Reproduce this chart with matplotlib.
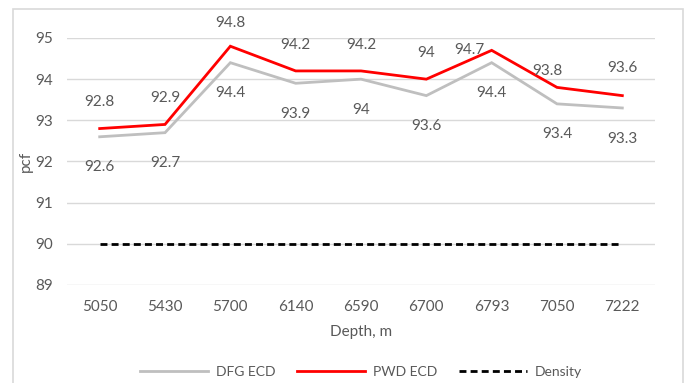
import matplotlib
matplotlib.use('Agg')
import matplotlib.pyplot as plt
from matplotlib.patches import Rectangle

# depth stations and measured values (pcf)
depths = ['5050', '5430', '5700', '6140', '6590', '6700', '6793', '7050', '7222']
dfg_ecd = [92.6, 92.7, 94.4, 93.9, 94.0, 93.6, 94.4, 93.4, 93.3]
pwd_ecd = [92.8, 92.9, 94.8, 94.2, 94.2, 94.0, 94.7, 93.8, 93.6]
density = [90, 90, 90, 90, 90, 90, 90, 90, 90]
yticks = [89, 90, 91, 92, 93, 94, 95]

# label offsets in points (PWD above, DFG below, a couple nudged by hand)
pwd_offsets = [(0, 19), (0, 19), (0, 17), (0, 19), (0, 19), (0, 19), (-16, 0), (-7, 12), (0, 20)]
dfg_offsets = [(0, -22)] * 9

txt = '#595959'
fs = 11
plt.rcParams['font.family'] = ['Lato', 'DejaVu Sans']

fig = plt.figure(figsize=(6.86, 3.83), dpi=100)
ax = fig.add_axes([0.0977, 0.2559, 0.8571, 0.6449])

# chart area frame
fig.patches.append(Rectangle((13 / 686, -0.05), 670 / 686, 1.05 - 9 / 383,
                             transform=fig.transFigure, fill=False,
                             edgecolor='#d9d9d9', linewidth=1.2))

x = list(range(len(depths)))
ax.plot(x, dfg_ecd, color='#bfbfbf', lw=2.0, label='DFG ECD', solid_joinstyle='miter')
ax.plot(x, pwd_ecd, color='#ff0000', lw=2.0, label='PWD ECD', solid_joinstyle='miter')
ax.plot(x, density, color='black', lw=2.0, ls=(0, (2.5, 1.5)), label='Density')

for i in x:
    ax.annotate(f'{pwd_ecd[i]:g}', (i, pwd_ecd[i]), xytext=pwd_offsets[i],
                textcoords='offset points', ha='center', va='center',
                fontsize=fs, color=txt)
    ax.annotate(f'{dfg_ecd[i]:g}', (i, dfg_ecd[i]), xytext=dfg_offsets[i],
                textcoords='offset points', ha='center', va='center',
                fontsize=fs, color=txt)

ax.set_xlim(-0.5, len(depths) - 0.5)
ax.set_ylim(89, 95)
ax.set_yticks(yticks)
ax.set_xticks(x)
ax.set_xticklabels(depths)
ax.yaxis.grid(True, color='#d9d9d9', lw=1.0)
ax.set_axisbelow(True)
for s in ax.spines.values():
    s.set_visible(False)
ax.tick_params(length=0, labelsize=fs, labelcolor=txt)
ax.tick_params(axis='x', pad=11)
ax.tick_params(axis='y', pad=10)
ax.set_xlabel('Depth, m', fontsize=fs, color=txt, labelpad=8)
ax.set_ylabel('pcf', fontsize=fs, color=txt, labelpad=2)

ax.legend(loc='center', bbox_to_anchor=(0.5, -0.352), ncol=3, frameon=False,
          fontsize=10, labelcolor=txt, handlelength=4.9, columnspacing=1.6,
          handletextpad=0.55)

fig.savefig('out.png', dpi=100)
